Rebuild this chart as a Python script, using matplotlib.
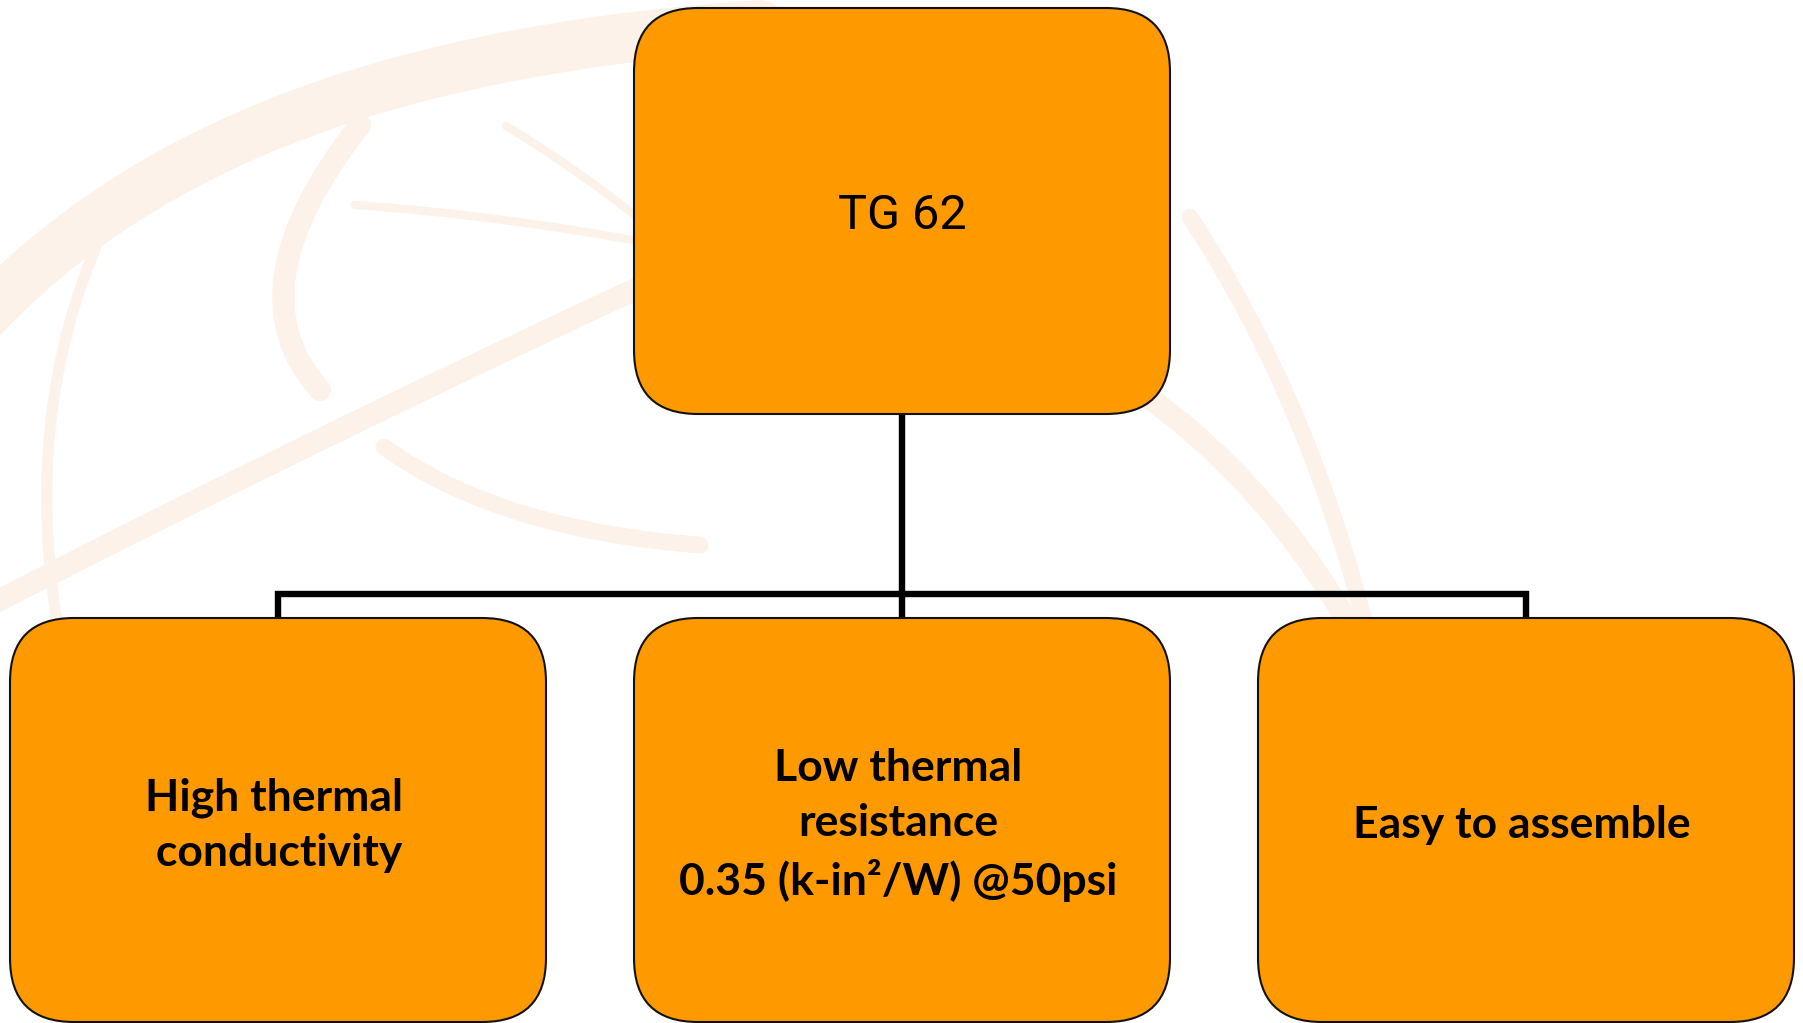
import matplotlib
matplotlib.use("Agg")
import matplotlib.pyplot as plt
from matplotlib.patches import FancyBboxPatch, PathPatch
from matplotlib.path import Path

# ---- content ----
root_label = "TG 62"
child_labels = [
    "High thermal\n conductivity",
    "Low thermal\nresistance\n0.35 (k-in\u00b2/W) @50psi",
    "Easy to assemble",
]

# ---- style ----
BOX_FC = "#FF9900"
BOX_EC = "#111111"
WM = "#FDF2E9"

W, H = 1803, 1023
fig = plt.figure(figsize=(W / 100, H / 100), dpi=100)
ax = fig.add_axes([0, 0, 1, 1])
ax.set_xlim(0, W)
ax.set_ylim(H, 0)
ax.axis("off")

# ---- faint watermark (globe logo) ----
def curve(pts, lw, color=WM, alpha=1.0):
    codes = [Path.MOVETO] + [Path.CURVE4] * (len(pts) - 1)
    ax.add_patch(PathPatch(Path(pts, codes), fc="none", ec=color, lw=lw,
                           alpha=alpha, capstyle="round", zorder=0))

def qcurve(pts, lw, color=WM, alpha=1.0):
    codes = [Path.MOVETO] + [Path.CURVE3] * (len(pts) - 1)
    ax.add_patch(PathPatch(Path(pts, codes), fc="none", ec=color, lw=lw,
                           alpha=alpha, capstyle="round", zorder=0))

curve([(-20, 320), (150, 140), (400, 50), (760, 25)], 36)
qcurve([(100, 237), (20, 420), (60, 640)], 8)
qcurve([(-20, 610), (350, 420), (720, 250)], 16)
qcurve([(360, 125), (230, 290), (320, 390)], 16)
qcurve([(355, 205), (500, 215), (660, 245)], 6)
qcurve([(506, 126), (580, 170), (660, 235)], 6)
qcurve([(384, 447), (500, 530), (700, 545)], 12)
qcurve([(1145, 395), (1320, 520), (1414, 760)], 16)
qcurve([(1190, 217), (1310, 400), (1369, 640)], 12)
qcurve([(60, 640), (80, 850), (200, 1023)], 8)

# ---- layout ----
n = len(child_labels)
col_w = 536
gap = 88
left0 = 10
lefts = [left0 + i * (col_w + gap) for i in range(n)]
root_left = lefts[1]
root_top, root_bot = 8, 414
child_top, child_bot = 618, 1022
bus_y = 594
radius = 64

def box(x0, y0, x1, y1):
    ax.add_patch(FancyBboxPatch((x0, y0), x1 - x0, y1 - y0,
                                boxstyle=f"round,pad=0,rounding_size={radius}",
                                fc=BOX_FC, ec=BOX_EC, lw=1.5, zorder=3))

# connectors
cx_root = root_left + col_w / 2
centers = [l + col_w / 2 for l in lefts]
lk = dict(color="black", lw=4.6, zorder=2, solid_capstyle="projecting",
          solid_joinstyle="miter")
ax.plot([cx_root, cx_root], [root_bot, bus_y], **lk)
ax.plot([centers[0], centers[0], centers[-1], centers[-1]],
        [child_top, bus_y, bus_y, child_top], **lk)
ax.plot([centers[1], centers[1]], [bus_y, child_top], **lk)

# boxes
box(root_left, root_top, root_left + col_w, root_bot)
for l in lefts:
    box(l, child_top, l + col_w, child_bot)

# text
ax.text(cx_root, (root_top + root_bot) / 2 + 5, root_label, ha="center", va="center",
        fontsize=35, family="Roboto", color="black", zorder=4)
for c, lab in zip(centers, child_labels):
    ax.text(c - 4, (child_top + child_bot) / 2 + 5, lab, ha="center", va="center",
            fontsize=32, family="Lato", fontweight="bold", color="black",
            linespacing=1.45, zorder=4)

fig.savefig("out.png", dpi=100, facecolor="white")
